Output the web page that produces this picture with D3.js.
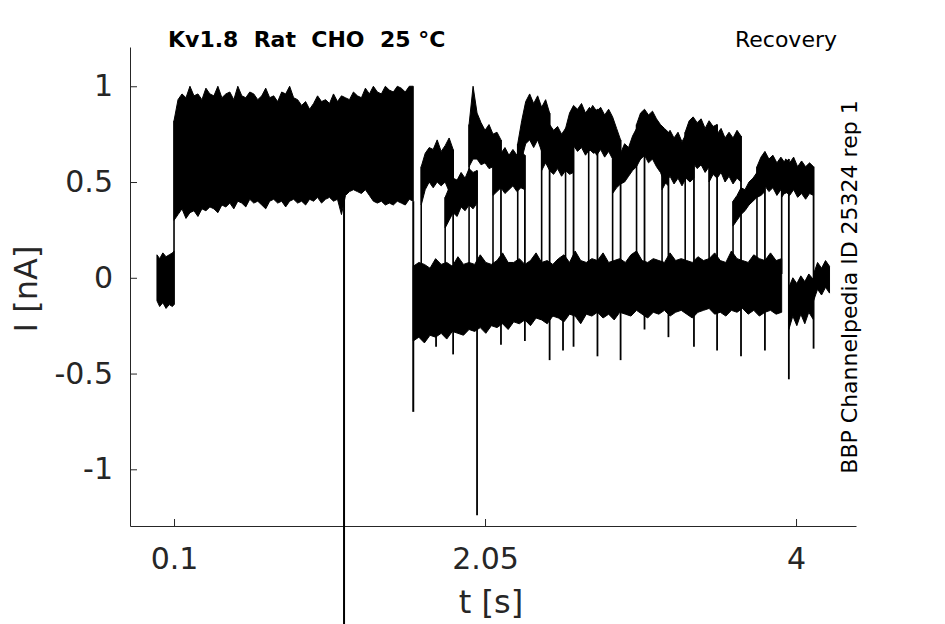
<!DOCTYPE html>
<html><head><meta charset="utf-8">
<script src="https://cdn.jsdelivr.net/npm/d3@7"></script>
<style>body{margin:0;background:#fff} svg{display:block}</style>
</head><body><svg id="c" width="945" height="624"></svg>
<script>
// ---- axes / ticks ----
const xTicks = [0.1, 2.05, 4];
const xTickLabels = ["0.1", "2.05", "4"];
const yTicks = [-1, -0.5, 0, 0.5, 1];
const yTickLabels = ["-1", "-0.5", "0", "0.5", "1"];
const xDomain = [-0.176, 4.376];
const yDomain = [-1.296, 1.205];

// ---- holding level before first pulse ----
const preTimes = [-0.007, 0.01, 0.03, 0.05, 0.07, 0.09, 0.1];
const preTop = [0.12, 0.10, 0.13, 0.11, 0.12, 0.13, 0.14];
const preBot = [-0.12, -0.15, -0.13, -0.16, -0.14, -0.15, -0.14];

// ---- first (conditioning) pulse envelope, samples every 0.025 s from 0.1 s ----
const p1Start = 0.1, p1Step = 0.025;
const p1Top = [0.82,0.93,0.96,0.94,1.00,0.95,0.96,0.93,0.99,0.96,
               0.95,1.00,0.94,0.96,0.97,0.93,1.00,0.95,0.94,0.97,
               0.96,0.93,0.95,0.99,0.94,0.95,0.92,0.97,0.96,1.00,
               0.94,0.93,0.90,0.92,0.88,0.91,0.95,0.92,0.93,0.91,
               0.96,0.92,0.95,0.94,0.93,0.97,0.95,0.94,0.99,0.96,
               1.00,0.97,0.96,1.00,0.98,0.97,1.00,0.99,0.97,1.00,1.00];
const p1Bot = [0.30,0.33,0.36,0.31,0.34,0.35,0.32,0.36,0.35,0.37,
               0.36,0.34,0.38,0.37,0.39,0.36,0.40,0.39,0.37,0.41,
               0.39,0.40,0.38,0.36,0.40,0.41,0.39,0.40,0.37,0.40,
               0.41,0.39,0.40,0.38,0.41,0.40,0.42,0.39,0.41,0.42,
               0.40,0.41,0.33,0.43,0.45,0.46,0.45,0.44,0.46,0.43,
               0.40,0.39,0.40,0.38,0.39,0.38,0.40,0.39,0.38,0.41,0.40];

// ---- baseline between pulses, samples every 0.035 s from 1.6 s ----
const baseStart = 1.6, baseStep = 0.035;
const baseTop = [0.06,0.08,0.07,0.05,0.10,0.07,0.08,0.06,0.11,0.07,
                 0.08,0.07,0.12,0.08,0.07,0.09,0.13,0.08,0.08,0.10,
                 0.07,0.09,0.13,0.08,0.09,0.07,0.10,0.12,0.08,0.14,
                 0.09,0.08,0.10,0.09,0.13,0.08,0.09,0.10,0.08,0.12,
                 0.14,0.09,0.08,0.10,0.09,0.08,0.13,0.09,0.10,0.09,
                 0.08,0.11,0.09,0.10,0.13,0.09,0.08,0.14,0.10,0.09,
                 0.08,0.12,0.10,0.09,0.13,0.09,0.10];
const baseBot = [-0.33,-0.31,-0.34,-0.30,-0.31,-0.29,-0.32,-0.28,-0.29,-0.30,
                 -0.27,-0.28,-0.26,-0.29,-0.25,-0.26,-0.24,-0.27,-0.23,-0.24,
                 -0.22,-0.25,-0.21,-0.22,-0.24,-0.20,-0.21,-0.23,-0.19,-0.20,
                 -0.24,-0.19,-0.20,-0.18,-0.21,-0.19,-0.22,-0.18,-0.19,-0.20,
                 -0.17,-0.19,-0.21,-0.18,-0.19,-0.17,-0.20,-0.18,-0.17,-0.19,
                 -0.21,-0.18,-0.17,-0.16,-0.19,-0.18,-0.20,-0.17,-0.18,-0.16,
                 -0.19,-0.17,-0.20,-0.18,-0.17,-0.19,-0.18];

// ---- test pulses (one per sweep), 9 samples every 0.025 s over 0.2 s ----
const pulseStart = [1.65,1.80,1.95,2.10,2.255,2.405,2.555,2.70,2.85,3.00,3.16,3.305,3.455,3.605,3.755,3.91];
const pulseDur = 0.2, pulseStep = 0.025;
const pulseTop = [
  [0.58,0.65,0.68,0.67,0.72,0.66,0.69,0.73,0.67],
  [0.42,0.47,0.52,0.51,0.55,0.52,0.57,0.55,0.56],
  [0.80,1.00,0.86,0.81,0.77,0.80,0.75,0.76,0.72],
  [0.62,0.66,0.65,0.68,0.64,0.67,0.64,0.66,0.64],
  [0.70,0.82,0.92,0.96,0.91,0.95,0.89,0.93,0.86],
  [0.80,0.87,0.80,0.77,0.79,0.75,0.78,0.76,0.77],
  [0.78,0.86,0.90,0.88,0.91,0.86,0.89,0.86,0.88],
  [0.86,0.90,0.87,0.89,0.85,0.88,0.84,0.78,0.72],
  [0.62,0.66,0.65,0.70,0.68,0.74,0.78,0.82,0.86],
  [0.80,0.86,0.88,0.85,0.87,0.83,0.80,0.78,0.76],
  [0.68,0.74,0.77,0.73,0.76,0.71,0.75,0.72,0.74],
  [0.76,0.82,0.84,0.81,0.83,0.78,0.82,0.79,0.80],
  [0.72,0.76,0.75,0.78,0.73,0.76,0.73,0.77,0.74],
  [0.40,0.43,0.47,0.46,0.50,0.52,0.55,0.53,0.56],
  [0.58,0.63,0.66,0.62,0.64,0.60,0.63,0.60,0.62],
  [0.57,0.62,0.60,0.63,0.58,0.61,0.58,0.60,0.58]];
const pulseBot = [
  [0.38,0.46,0.50,0.47,0.50,0.48,0.50,0.45,0.49],
  [0.26,0.30,0.34,0.32,0.37,0.35,0.38,0.36,0.39],
  [0.58,0.62,0.62,0.59,0.60,0.57,0.58,0.55,0.56],
  [0.43,0.45,0.47,0.44,0.46,0.48,0.45,0.47,0.46],
  [0.52,0.62,0.70,0.72,0.68,0.72,0.66,0.70,0.64],
  [0.56,0.60,0.56,0.54,0.57,0.53,0.56,0.54,0.55],
  [0.62,0.66,0.69,0.66,0.68,0.64,0.67,0.65,0.66],
  [0.66,0.68,0.64,0.67,0.63,0.66,0.62,0.58,0.54],
  [0.44,0.47,0.49,0.50,0.53,0.56,0.58,0.62,0.64],
  [0.60,0.62,0.64,0.60,0.62,0.58,0.55,0.50,0.48],
  [0.46,0.50,0.53,0.49,0.52,0.48,0.52,0.50,0.52],
  [0.55,0.58,0.60,0.57,0.59,0.55,0.58,0.56,0.57],
  [0.50,0.54,0.52,0.55,0.50,0.53,0.49,0.52,0.50],
  [0.27,0.30,0.33,0.35,0.38,0.40,0.42,0.43,0.45],
  [0.44,0.46,0.48,0.45,0.47,0.43,0.46,0.44,0.45],
  [0.42,0.45,0.43,0.46,0.42,0.44,0.41,0.44,0.43]];
const pulseEndSpike = [-0.40,-1.24,-0.35,-0.33,-0.43,-0.36,-0.41,-0.43,-0.27,-0.31,-0.36,-0.38,-0.41,-0.38,-0.53,-0.37];

// ---- other transients ----
const p1EndSpike = -0.70;
const extraSpikeTimes = [1.743, 2.539];
const extraSpikeValues = [-0.36, -0.38];
const artifactTime = 1.166, artifactFrom = 0.42, artifactTo = -3.0;

// ---- tails after the last test pulses ----
const tailATimes = [3.955, 3.98, 4.005, 4.03, 4.055, 4.08, 4.11];
const tailATop = [-0.05, 0.00, -0.03, 0.01, -0.02, 0.02, -0.01];
const tailABot = [-0.27, -0.20, -0.25, -0.19, -0.24, -0.18, -0.22];
const tailBTimes = [4.11, 4.135, 4.16, 4.185, 4.21];
const tailBTop = [0.02, 0.08, 0.05, 0.09, 0.06];
const tailBBot = [-0.12, -0.06, -0.09, -0.05, -0.08];

// ================= drawing =================
const svg = d3.select("#c");
const x = d3.scaleLinear().domain(xDomain).range([130, 856]);
const y = d3.scaleLinear().domain(yDomain).range([526, 47]);
const axisColor = "#262626";
const font = "'DejaVu Sans', sans-serif";

const xAxis = d3.axisBottom(x).tickValues(xTicks).tickFormat((d, i) => xTickLabels[i])
  .tickSizeInner(-7).tickSizeOuter(0).tickPadding(22);
const yAxis = d3.axisLeft(y).tickValues(yTicks).tickFormat((d, i) => yTickLabels[yTicks.indexOf(d)])
  .tickSizeInner(-7).tickSizeOuter(0).tickPadding(17);
const gx = svg.append("g").attr("transform", "translate(0,526)").call(xAxis);
const gy = svg.append("g").attr("transform", "translate(130,0)").call(yAxis);
[gx, gy].forEach(g => {
  g.attr("font-family", font).attr("font-size", 30);
  g.selectAll("path,line").attr("stroke", axisColor);
  g.selectAll("text").attr("fill", axisColor);
});

const tr = svg.append("g");
const area = d3.area().x(d => x(d.t)).y0(d => y(d.b)).y1(d => y(d.a));
function band(times, tops, bots) {
  const pts = times.map((t, i) => ({ t, a: tops[i], b: bots[i] }));
  tr.append("path").datum(pts).attr("d", area)
    .attr("fill", "#000").attr("stroke", "#000").attr("stroke-width", 1);
}
function vline(t, v0, v1, w) {
  tr.append("line").attr("x1", x(t)).attr("x2", x(t)).attr("y1", y(v0)).attr("y2", y(v1))
    .attr("stroke", "#000").attr("stroke-width", w || 1.6);
}

band(preTimes, preTop, preBot);
band(p1Top.map((_, i) => p1Start + i * p1Step), p1Top, p1Bot);
vline(p1Start, preBot[preBot.length - 1], p1Top[0]);
band(baseTop.map((_, i) => baseStart + i * baseStep), baseTop, baseBot);
vline(baseStart, p1Bot[p1Bot.length - 1], p1EndSpike, 2);

pulseStart.forEach((s, k) => {
  const times = pulseTop[k].map((_, j) => s + j * pulseStep);
  band(times, pulseTop[k], pulseBot[k]);
  vline(s, 0.02, pulseTop[k][0]);
  vline(s + pulseDur, pulseTop[k][pulseTop[k].length - 1], pulseEndSpike[k], 1.8);
});
extraSpikeTimes.forEach((t, i) => vline(t, -0.1, extraSpikeValues[i], 1.8));
band(tailATimes, tailATop, tailABot);
band(tailBTimes, tailBTop, tailBBot);
vline(artifactTime, artifactFrom, artifactTo, 2);

// ---- texts ----
svg.append("text").attr("x", 168).attr("y", 47).attr("font-family", font).attr("font-weight", "bold")
  .attr("font-size", 22).style("white-space", "pre").attr("fill", "#000").text("Kv1.8  Rat  CHO  25 °C");
svg.append("text").attr("x", 837).attr("y", 47).attr("text-anchor", "end").attr("font-family", font)
  .attr("font-size", 22).attr("fill", "#000").text("Recovery");
svg.append("text").attr("transform", "translate(857,287) rotate(-90)").attr("text-anchor", "middle")
  .attr("font-family", font).attr("font-size", 22).attr("fill", "#000").text("BBP Channelpedia ID 25324 rep 1");
svg.append("text").attr("transform", "translate(37,289) rotate(-90)").attr("text-anchor", "middle")
  .attr("font-family", font).attr("font-size", 32).attr("fill", axisColor).text("I [nA]");
svg.append("text").attr("x", 491).attr("y", 613).attr("text-anchor", "middle")
  .attr("font-family", font).attr("font-size", 32).attr("fill", axisColor).text("t [s]");
</script></body></html>
